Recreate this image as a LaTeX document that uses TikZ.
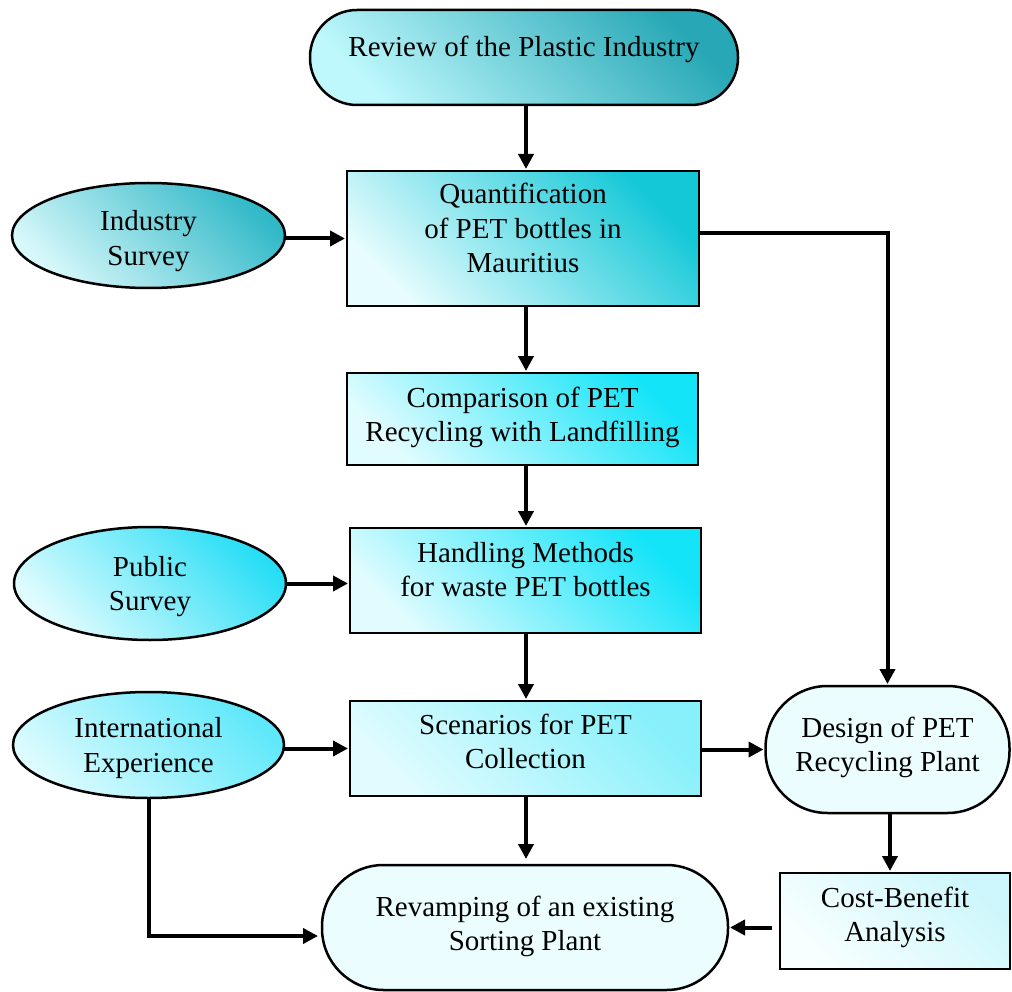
\documentclass[tikz,border=0pt]{standalone}
\usepackage{fontspec}
\setmainfont{Liberation Serif}
\usetikzlibrary{shapes.geometric,arrows.meta}
\definecolor{revD}{RGB}{40,168,182}
\definecolor{revL}{RGB}{190,248,252}
\definecolor{quaD}{RGB}{20,200,215}
\definecolor{quaL}{RGB}{230,252,254}
\definecolor{indD}{RGB}{50,185,200}
\definecolor{indL}{RGB}{215,248,250}
\definecolor{cmpD}{RGB}{20,228,248}
\definecolor{cmpL}{RGB}{225,252,255}
\definecolor{pubD}{RGB}{40,222,245}
\definecolor{scnD}{RGB}{135,240,250}
\definecolor{intD}{RGB}{95,232,250}
\definecolor{intL}{RGB}{220,251,254}
\definecolor{paleF}{RGB}{235,253,255}
\definecolor{cstD}{RGB}{205,247,252}
\definecolor{cstL}{RGB}{248,255,255}
\begin{document}
\begin{tikzpicture}[x=1pt,y=-1pt,
  base/.style={draw=black, line width=2.5pt, inner sep=0pt, outer sep=0pt},
  boxn/.style={base, rectangle},
  ell/.style={base, ellipse},
  txt/.style={font=\fontsize{29}{34.5}\selectfont, align=center, inner sep=0pt},
  grad/.style 2 args={top color=#1, bottom color=#2, shading angle=-45},
  arr/.style={line width=4pt, -{Triangle[length=15pt,width=15pt]}, shorten >=2pt},
]
\useasboundingbox (0,0) rectangle (1012,992);

% nodes
\node[boxn, rounded corners=47pt, grad={revD}{revL}, minimum width=428pt, minimum height=95pt,
  label={[txt,yshift=7.5pt]center:{\strut Review of the Plastic Industry}}] (review) at (524,57.5) {};
\node[boxn, grad={quaD}{quaL}, minimum width=352pt, minimum height=135pt,
  label={[txt,yshift=7pt]center:{\strut Quantification\\\strut of PET bottles in\\\strut Mauritius}}] (quant) at (523,238.5) {};
\node[ell, grad={indD}{indL}, minimum width=273pt, minimum height=105pt,
  label={[txt,yshift=-5.5pt]center:{\strut Industry\\\strut Survey}}] (ind) at (148.5,235.5) {};
\node[boxn, grad={cmpD}{cmpL}, minimum width=351pt, minimum height=92pt,
  label={[txt,yshift=1.6pt]center:{\strut Comparison of PET\\\strut Recycling with Landfilling}}] (comp) at (522.5,419) {};
\node[boxn, grad={cmpD}{cmpL}, minimum width=351pt, minimum height=105pt,
  label={[txt,yshift=8pt]center:{\strut Handling Methods\\\strut for waste PET bottles}}] (hand) at (525.5,580.5) {};
\node[ell, grad={pubD}{cmpL}, minimum width=272pt, minimum height=113pt,
  label={[txt,yshift=-3pt]center:{\strut Public\\\strut Survey}}] (pub) at (150,583.5) {};
\node[boxn, grad={scnD}{cmpL}, minimum width=351pt, minimum height=95pt,
  label={[txt,yshift=4pt]center:{\strut Scenarios for PET\\\strut Collection}}] (scen) at (525.5,748.5) {};
\node[ell, grad={intD}{intL}, minimum width=271pt, minimum height=106pt,
  label={[txt,yshift=-3pt]center:{\strut International\\\strut Experience}}] (intl) at (148.5,745) {};
\node[boxn, rounded corners=62pt, fill=paleF, minimum width=244pt, minimum height=127pt,
  label={[txt,yshift=2pt]center:{\strut Design of PET\\\strut Recycling Plant}}] (design) at (887.5,749.5) {};
\node[boxn, grad={cstD}{cstL}, minimum width=230pt, minimum height=96pt,
  label={[txt,yshift=3.6pt]center:{\strut Cost-Benefit\\\strut Analysis}}] (cost) at (895,921) {};
\node[boxn, rounded corners=61.5pt, fill=paleF, minimum width=406pt, minimum height=125pt,
  label={[txt,yshift=1pt]center:{\strut Revamping of an existing\\\strut Sorting Plant}}] (reva) at (525,927.5) {};

% axes for vertical connectors
\coordinate (ax) at (526,0);
\coordinate (axr) at (890,0);

% connectors
\draw[arr] (review.south -| ax) -- (quant.north -| ax);
\draw[arr] (quant.south -| ax) -- (comp.north -| ax);
\draw[arr] (comp.south -| ax) -- (hand.north -| ax);
\draw[arr] (hand.south -| ax) -- (scen.north -| ax);
\draw[arr, shorten >=6pt] (scen.south -| ax) -- (reva.north -| ax);
\draw[arr] (ind.east |- quant.west) -- (quant.west);
\draw[arr] (pub.east) -- (pub.east -| hand.west);
\draw[arr] (intl.east |- scen.west) -- (scen.west);
\draw[arr] (scen.east |- design.west) -- (design.west);
\draw[arr] ([yshift=5.5pt]quant.east) -| (design.north);
\draw[arr] (design.south -| axr) -- (cost.north -| axr);
\draw[arr, shorten <=8pt] (cost.west |- reva.east) -- (reva.east);
\draw[arr, shorten >=4pt] (intl.south) |- ([yshift=-8.5pt]reva.west);
\end{tikzpicture}
\end{document}
